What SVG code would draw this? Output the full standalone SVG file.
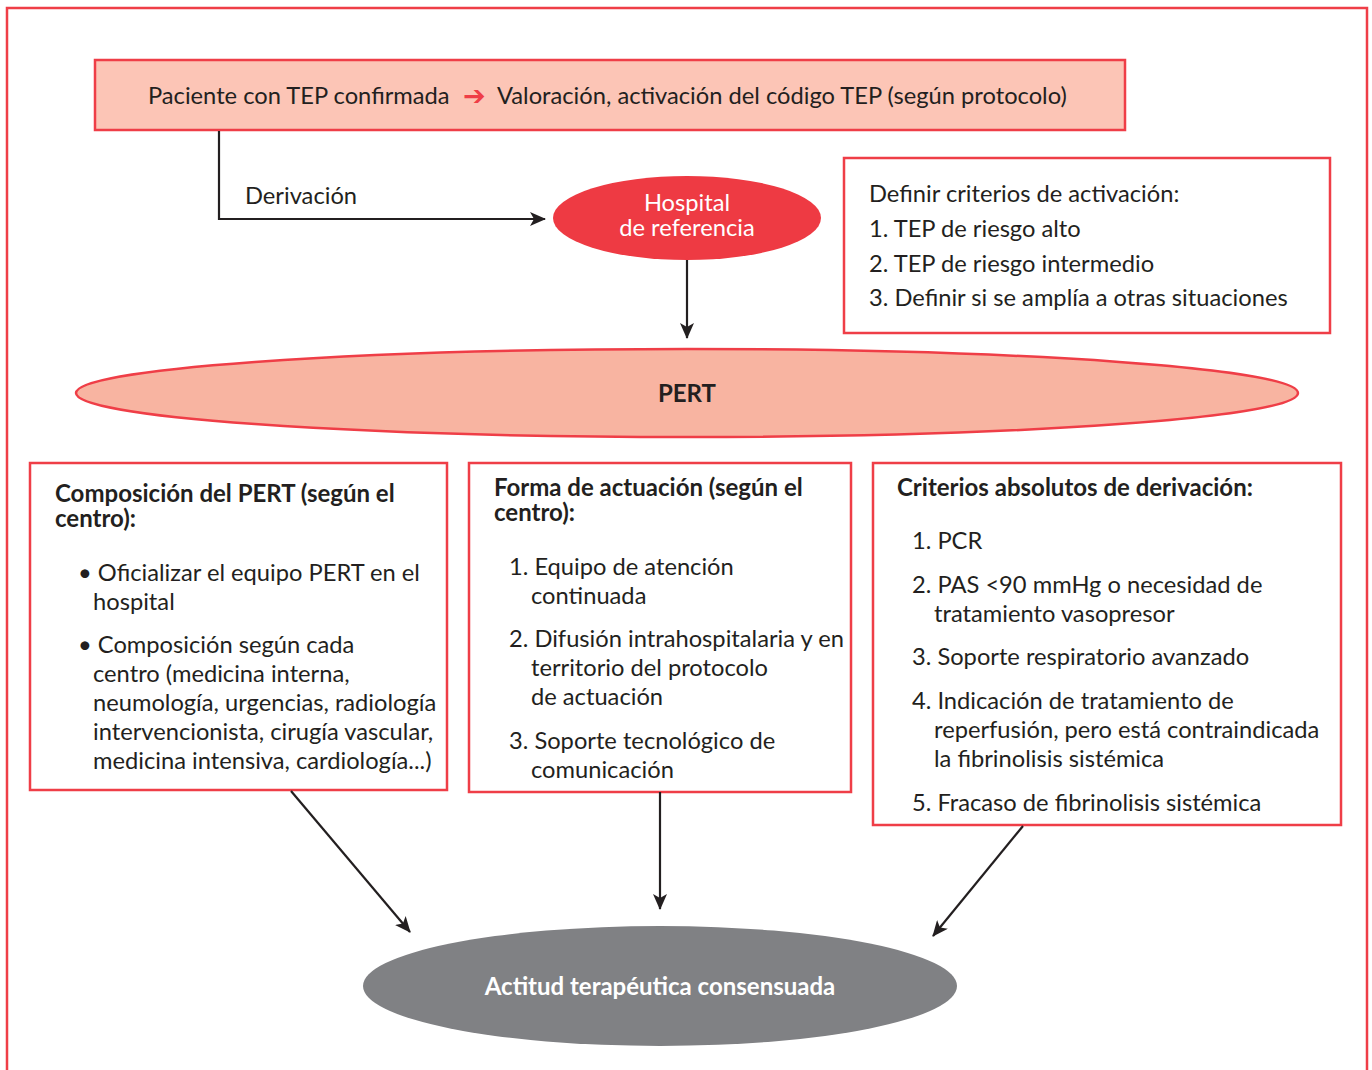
<svg xmlns="http://www.w3.org/2000/svg" width="1372" height="1070" viewBox="0 0 1372 1070">
<defs>
<marker id="ah" markerWidth="16" markerHeight="14" refX="15" refY="7" orient="auto" markerUnits="userSpaceOnUse" viewBox="0 0 16 14">
<path d="M0,0 L16,7 L0,14 L4,7 Z" fill="#231f20"/>
</marker>
</defs>
<style>
text{font-family:Lato,"Liberation Sans",sans-serif;fill:#231f20;font-size:23.7px}
.b{font-weight:bold;font-size:24px}
.w{fill:#ffffff}
.box{fill:#ffffff;stroke:#ef3e47;stroke-width:2.5}
.con{stroke:#231f20;stroke-width:2.2;fill:none}
</style>
<rect x="7" y="8" width="1360" height="1100" fill="none" stroke="#ef3e47" stroke-width="2.5"/>
<g id="top">
<rect x="95" y="60" width="1030" height="70" fill="#fcc5b6" stroke="#ef3e47" stroke-width="2.5"/>
<text x="148" y="104">Paciente con TEP confirmada</text>
<text x="463" y="105" style="font-family:'DejaVu Sans',sans-serif;fill:#ef3e47;font-weight:bold;font-size:27px">➔</text>
<text x="497" y="104">Valoración, activación del código TEP (según protocolo)</text>
</g>
<g id="hospital">
<ellipse cx="687" cy="218" rx="134" ry="42" fill="#ee3a43"/>
<text class="w" x="687" y="211" text-anchor="middle">Hospital</text>
<text class="w" x="687" y="236" text-anchor="middle">de referencia</text>
</g>
<g id="criterios-activacion">
<rect class="box" x="844" y="158" width="486" height="175"/>
<text x="869" y="202">Definir criterios de activación:</text>
<text x="869" y="237">1. TEP de riesgo alto</text>
<text x="869" y="272">2. TEP de riesgo intermedio</text>
<text x="869" y="306">3. Definir si se amplía a otras situaciones</text>
</g>
<g id="pert">
<ellipse cx="687" cy="393" rx="611" ry="44" fill="#f8b4a1" stroke="#ef3e47" stroke-width="2.5"/>
<text class="b" x="687" y="402" text-anchor="middle">PERT</text>
</g>
<g id="composicion">
<rect class="box" x="30" y="463" width="417" height="327"/>
<text class="b" x="55" y="502">Composición del PERT (según el</text>
<text class="b" x="55" y="527">centro):</text>
<text x="78" y="581">• Oficializar el equipo PERT en el</text>
<text x="93" y="610">hospital</text>
<text x="78" y="653">• Composición según cada</text>
<text x="93" y="682">centro (medicina interna,</text>
<text x="93" y="711">neumología, urgencias, radiología</text>
<text x="93" y="740">intervencionista, cirugía vascular,</text>
<text x="93" y="769">medicina intensiva, cardiología...)</text>
</g>
<g id="forma">
<rect class="box" x="469" y="463" width="382" height="329"/>
<text class="b" x="494" y="496">Forma de actuación (según el</text>
<text class="b" x="494" y="521">centro):</text>
<text x="509" y="575">1. Equipo de atención</text>
<text x="531" y="604">continuada</text>
<text x="509" y="647">2. Difusión intrahospitalaria y en</text>
<text x="531" y="676">territorio del protocolo</text>
<text x="531" y="705">de actuación</text>
<text x="509" y="749">3. Soporte tecnológico de</text>
<text x="531" y="778">comunicación</text>
</g>
<g id="criterios-derivacion">
<rect class="box" x="873" y="463" width="468" height="362"/>
<text class="b" x="897" y="496">Criterios absolutos de derivación:</text>
<text x="912" y="549">1. PCR</text>
<text x="912" y="593">2. PAS &lt;90 mmHg o necesidad de</text>
<text x="934" y="622">tratamiento vasopresor</text>
<text x="912" y="665">3. Soporte respiratorio avanzado</text>
<text x="912" y="709">4. Indicación de tratamiento de</text>
<text x="934" y="738">reperfusión, pero está contraindicada</text>
<text x="934" y="767">la fibrinolisis sistémica</text>
<text x="912" y="811">5. Fracaso de fibrinolisis sistémica</text>
</g>
<g id="actitud">
<ellipse cx="660" cy="986" rx="297" ry="60" fill="#808184"/>
<text class="b w" x="660" y="995" text-anchor="middle">Actitud terapéutica consensuada</text>
</g>
<g id="connectors">
<polyline class="con" points="219,131 219,219 545,219" marker-end="url(#ah)"/>
<text x="245" y="204">Derivación</text>
<line class="con" x1="687" y1="260" x2="687" y2="338" marker-end="url(#ah)"/>
<line class="con" x1="291" y1="791" x2="410" y2="932" marker-end="url(#ah)"/>
<line class="con" x1="660" y1="792" x2="660" y2="909" marker-end="url(#ah)"/>
<line class="con" x1="1023" y1="826" x2="933" y2="936" marker-end="url(#ah)"/>
</g>
</svg>
